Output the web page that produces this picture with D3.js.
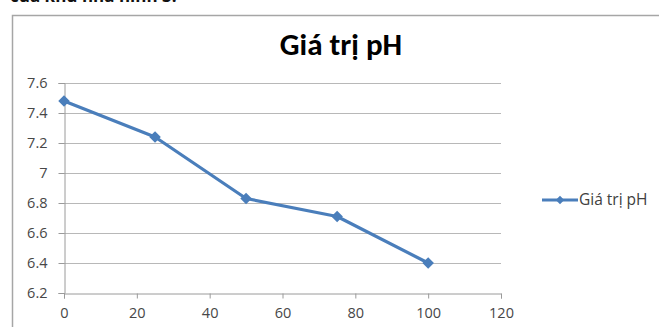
<!DOCTYPE html>
<html>
<head>
<meta charset="utf-8">
<script src="https://cdn.jsdelivr.net/npm/d3@7"></script>
<style>
  body { margin: 0; background: #fff; }
  svg { display: block; }
</style>
</head>
<body>
<div id="chart"></div>
<script>
// data
const xValues = [0, 25, 50, 75, 100];
const phValues = [7.48, 7.24, 6.83, 6.71, 6.40];
const xTicks = [0, 20, 40, 60, 80, 100, 120];
const yTicks = [6.2, 6.4, 6.6, 6.8, 7, 7.2, 7.4, 7.6];
const seriesName = 'Giá trị pH';
const chartTitle = 'Giá trị pH';
const captionText = 'của khu nhà hình 3.';

const width = 659, height = 327;
const margin = { top: 83, right: 158, bottom: 34, left: 64 };
const lineColor = '#4a7ebb';
const titleFont = 'Calibri, Carlito, sans-serif';
const labelFont = '"Open Sans", sans-serif';

const svg = d3.select('#chart').append('svg')
  .attr('width', width)
  .attr('height', height);

// clipped caption from the document above the chart
svg.append('text')
  .attr('x', 10)
  .attr('y', 2)
  .attr('font-family', labelFont)
  .attr('font-size', 17)
  .attr('font-weight', 'bold')
  .attr('fill', '#111')
  .text(captionText);

// chart frame
svg.append('rect')
  .attr('x', 12.5)
  .attr('y', 15.5)
  .attr('width', width)
  .attr('height', height)
  .attr('fill', '#fff')
  .attr('stroke', '#a6a6a6')
  .attr('stroke-width', 1.5);

const x = d3.scaleLinear().domain([0, 120]).range([margin.left, width - margin.right]);
const y = d3.scaleLinear().domain([6.2, 7.6]).range([height - margin.bottom, margin.top]);

// gridlines
svg.append('g')
  .selectAll('line')
  .data(yTicks.slice(1))
  .join('line')
  .attr('x1', x(0))
  .attr('x2', x(120))
  .attr('y1', d => Math.round(y(d)) + 0.5)
  .attr('y2', d => Math.round(y(d)) + 0.5)
  .attr('stroke', '#b8b8b8')
  .attr('stroke-width', 1);

// axes
const yAxis = d3.axisLeft(y)
  .tickValues(yTicks)
  .tickSize(6)
  .tickPadding(11)
  .tickFormat(d => String(+d.toFixed(1)));

const xAxis = d3.axisBottom(x)
  .tickValues(xTicks)
  .tickSize(5)
  .tickPadding(9);

const yG = svg.append('g')
  .attr('transform', `translate(${x(0) + 0.5},0)`)
  .call(yAxis);

const xG = svg.append('g')
  .attr('transform', `translate(0,${Math.round(y(6.2)) + 0.5})`)
  .call(xAxis);

[yG, xG].forEach(g => {
  g.selectAll('path, line').attr('stroke', '#9a9a9a');
  g.selectAll('text')
    .attr('fill', '#474747')
    .attr('font-family', labelFont)
    .attr('font-size', 14.5);
});

// series line
const line = d3.line()
  .x((d, i) => x(xValues[i]))
  .y(d => y(d));

svg.append('path')
  .datum(phValues)
  .attr('fill', 'none')
  .attr('stroke', lineColor)
  .attr('stroke-width', 3.2)
  .attr('stroke-linejoin', 'round')
  .attr('d', line);

const diamond = d3.symbol().type(d3.symbolDiamond2).size(85);

svg.append('g')
  .selectAll('path')
  .data(phValues)
  .join('path')
  .attr('transform', (d, i) => `translate(${x(xValues[i])},${y(d)})`)
  .attr('d', diamond)
  .attr('fill', lineColor);

// title
svg.append('text')
  .attr('x', 341)
  .attr('y', 55)
  .attr('text-anchor', 'middle')
  .attr('font-family', titleFont)
  .attr('font-size', 31)
  .attr('font-weight', 'bold')
  .attr('fill', '#000')
  .text(chartTitle);

// legend
const legend = svg.append('g').attr('transform', 'translate(542,200)');
legend.append('line')
  .attr('x1', 0).attr('x2', 36)
  .attr('stroke', lineColor)
  .attr('stroke-width', 3);
legend.append('path')
  .attr('transform', 'translate(18,0)')
  .attr('d', d3.symbol().type(d3.symbolDiamond2).size(45))
  .attr('fill', lineColor);
legend.append('text')
  .attr('x', 37)
  .attr('y', 5)
  .attr('font-family', labelFont)
  .attr('font-size', 15.5)
  .attr('fill', '#404040')
  .text(seriesName);
</script>
</body>
</html>
